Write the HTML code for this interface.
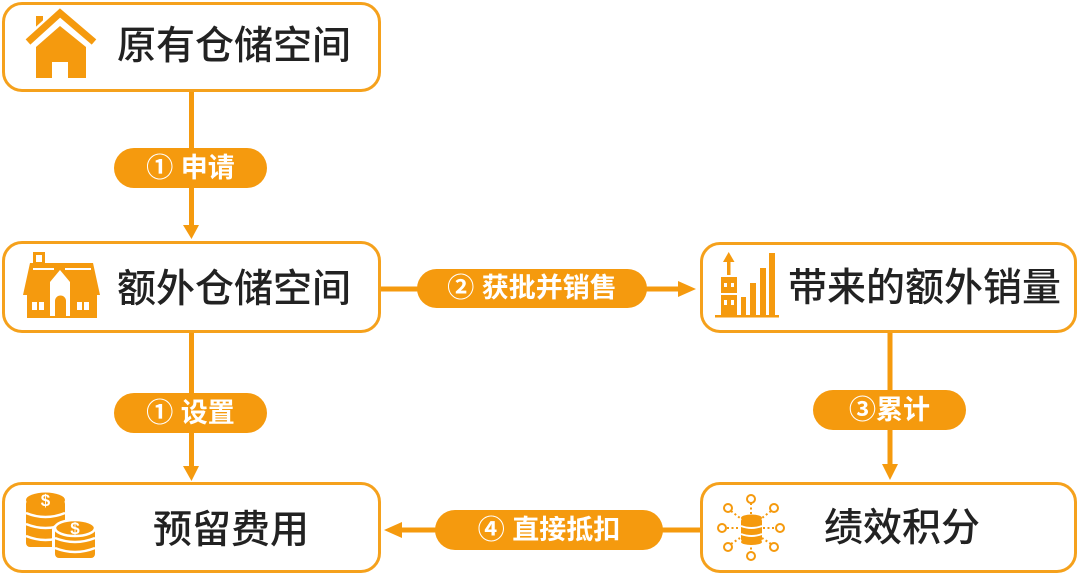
<!DOCTYPE html>
<html>
<head>
<meta charset="utf-8">
<style>
  html,body{margin:0;padding:0;background:#fff;}
  #c{position:relative;width:1080px;height:575px;overflow:hidden;background:#fff;}
  .box{position:absolute;box-sizing:border-box;border:3px solid #F5A11C;border-radius:20px;background:#fff;}
  .t{position:absolute;height:50px;line-height:50px;font-family:"Liberation Sans","Noto Sans CJK SC",sans-serif;font-size:39px;font-weight:500;color:#222;white-space:nowrap;}
  .pill{position:absolute;box-sizing:border-box;background:#F59A0E;border-radius:20px;color:#fff;text-align:center;font-family:"Liberation Sans","Noto Sans CJK SC",sans-serif;font-weight:bold;font-size:27px;white-space:nowrap;}
  svg{position:absolute;left:0;top:0;}
</style>
</head>
<body>
<div id="c">
  <svg width="1080" height="575" viewBox="0 0 1080 575">
    <g fill="#F59A0E" stroke="none">
      <rect x="189" y="90" width="5" height="138"/>
      <polygon points="183,225 199,225 191.5,239"/>
      <rect x="189" y="331" width="5" height="138"/>
      <polygon points="183,466 199,466 191.5,481"/>
      <rect x="379" y="286.5" width="302" height="5"/>
      <polygon points="678,281 678,297 696,289"/>
      <rect x="887.5" y="330" width="5" height="137"/>
      <polygon points="882,464 898,464 890,480"/>
      <rect x="399" y="527.5" width="303" height="5"/>
      <polygon points="402,522 402,538 384,530"/>
    </g>
  </svg>

  <div class="box" style="left:2px;top:2px;width:379px;height:90px;"></div>
  <div class="box" style="left:2px;top:241px;width:379px;height:92px;"></div>
  <div class="box" style="left:700px;top:242px;width:377px;height:91px;"></div>
  <div class="box" style="left:2px;top:482px;width:379px;height:91px;"></div>
  <div class="box" style="left:700px;top:482px;width:377px;height:91px;"></div>

  <div class="t" style="left:117px;top:22px;">原有仓储空间</div>
  <div class="t" style="left:117px;top:265px;">额外仓储空间</div>
  <div class="t" style="left:788px;top:264px;">带来的额外销量</div>
  <div class="t" style="left:153px;top:506px;">预留费用</div>
  <div class="t" style="left:824px;top:504px;">绩效积分</div>

  <div class="pill" style="left:114px;top:148px;width:153px;height:40px;line-height:40px;">① 申请</div>
  <div class="pill" style="left:114px;top:393px;width:153px;height:40px;line-height:40px;">① 设置</div>
  <div class="pill" style="left:417px;top:269px;width:230px;height:39px;line-height:39px;">② 获批并销售</div>
  <div class="pill" style="left:813px;top:390px;width:153px;height:40px;line-height:40px;">③累计</div>
  <div class="pill" style="left:435px;top:510px;width:228px;height:40px;line-height:40px;">④ 直接抵扣</div>

  <svg width="1080" height="575" viewBox="0 0 1080 575">
    <!-- house 1 -->
    <g fill="#F59A0E">
      <rect x="36" y="16" width="7" height="16"/>
      <polyline points="27,43 60,13 95,43" fill="none" stroke="#fff" stroke-width="12"/>
      <polyline points="28,42 60,13 94,42" fill="none" stroke="#F59A0E" stroke-width="7"/>
      <polygon points="36,78 36,47 60,26 86,47 86,78"/>
      <rect x="52" y="62" width="16" height="17" fill="#fff"/>
    </g>
    <!-- house 2 -->
    <g fill="#F59A0E">
      <rect x="34.5" y="253.5" width="9" height="10" fill="#fff" stroke="#F59A0E" stroke-width="3"/>
      <polygon points="30,263 93,263 100,295 23,295"/>
      <rect x="33" y="268" width="21" height="2" fill="#fff"/>
      <rect x="65" y="268" width="26" height="2" fill="#fff"/>
      <rect x="27" y="295" width="70" height="23"/>
      <polygon points="50,316 50,282 60,270 70,282 70,316" fill="#fff"/>
      <path d="M55,318 L55,301 A5.5,5.5 0 0 1 66,301 L66,318 Z"/>
      <rect x="32" y="302" width="12" height="8" fill="#fff"/>
      <rect x="37" y="302" width="2" height="8"/>
      <rect x="77" y="302" width="12" height="8" fill="#fff"/>
      <rect x="82" y="302" width="2" height="8"/>
    </g>
    <!-- bar chart -->
    <g fill="#F59A0E">
      <rect x="715" y="315" width="64" height="2.5"/>
      <rect x="769" y="253" width="6" height="63"/>
      <rect x="760" y="268" width="6" height="48"/>
      <rect x="750" y="283" width="6" height="33"/>
      <rect x="741" y="297" width="5" height="19"/>
      <rect x="721" y="277" width="16" height="39"/>
      <rect x="724" y="283" width="3" height="4" fill="#fff"/>
      <rect x="731" y="283" width="3" height="4" fill="#fff"/>
      <rect x="721" y="293" width="16" height="2" fill="#fff"/>
      <rect x="724" y="300" width="3" height="5" fill="#fff"/>
      <rect x="731" y="300" width="3" height="5" fill="#fff"/>
      <rect x="727" y="259" width="3.5" height="16"/>
      <polygon points="723,262 734.5,262 728.7,252"/>
    </g>
    <!-- coins -->
    <g>
      <rect x="26" y="500" width="39" height="47" rx="4" fill="#F59A0E"/>
      <ellipse cx="45.5" cy="500" rx="19.5" ry="7.5" fill="#F59A0E"/>
      <path d="M26,513 Q45.5,521 65,513" fill="none" stroke="#fff" stroke-width="2.5"/>
      <path d="M26,524 Q45.5,532 65,524" fill="none" stroke="#fff" stroke-width="2.5"/>
      <path d="M26,536 Q45.5,544 65,536" fill="none" stroke="#fff" stroke-width="2.5"/>
      <text x="45.5" y="506" font-family="Liberation Sans,sans-serif" font-size="17" font-weight="bold" fill="#fff" text-anchor="middle">$</text>
      <rect x="52" y="524" width="46" height="37" rx="6" fill="#fff"/>
      <rect x="55" y="528" width="40" height="30" rx="4" fill="#F59A0E"/>
      <ellipse cx="75" cy="528" rx="20" ry="8" fill="#F59A0E" stroke="#fff" stroke-width="2.5"/>
      <path d="M55,538 Q75,546 95,538" fill="none" stroke="#fff" stroke-width="2.5"/>
      <path d="M55,548 Q75,556 95,548" fill="none" stroke="#fff" stroke-width="2.5"/>
      <text x="75" y="534" font-family="Liberation Sans,sans-serif" font-size="17" font-weight="bold" fill="#fff" text-anchor="middle">$</text>
    </g>
    <!-- network / database -->
    <g stroke="#F59A0E" stroke-width="2" fill="none">
      <g stroke-dasharray="2,2.5">
        <line x1="751" y1="503" x2="751" y2="514"/>
        <line x1="751" y1="543" x2="751" y2="552"/>
        <line x1="727" y1="528" x2="739" y2="528"/>
        <line x1="763" y1="528" x2="775" y2="528"/>
        <line x1="731" y1="511" x2="740" y2="518"/>
        <line x1="771" y1="511" x2="762" y2="518"/>
        <line x1="731" y1="544" x2="740" y2="538"/>
        <line x1="771" y1="544" x2="762" y2="538"/>
      </g>
      <circle cx="751" cy="499" r="4" fill="#fff"/>
      <circle cx="751" cy="556" r="4" fill="#fff"/>
      <circle cx="722" cy="528" r="4" fill="#fff"/>
      <circle cx="780" cy="528" r="4" fill="#fff"/>
      <circle cx="728" cy="508" r="4" fill="#fff"/>
      <circle cx="774" cy="508" r="4" fill="#fff"/>
      <circle cx="728" cy="547" r="4" fill="#fff"/>
      <circle cx="774" cy="547" r="4" fill="#fff"/>
    </g>
    <g fill="#F59A0E">
      <rect x="741" y="518" width="21" height="24" rx="3"/>
      <ellipse cx="751.5" cy="518" rx="10.5" ry="3.5"/>
      <ellipse cx="751.5" cy="542" rx="10.5" ry="3"/>
      <path d="M741,526 Q751.5,530 762,526" fill="none" stroke="#fff" stroke-width="2"/>
      <path d="M741,534 Q751.5,538 762,534" fill="none" stroke="#fff" stroke-width="2"/>
    </g>
  </svg>
</div>
</body>
</html>
